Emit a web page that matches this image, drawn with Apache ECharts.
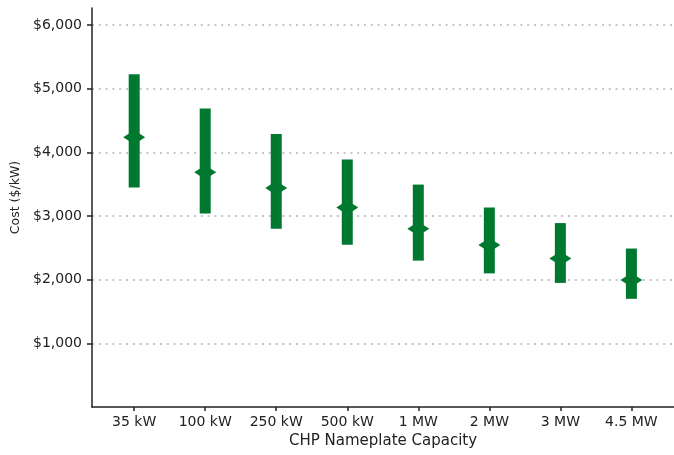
<!DOCTYPE html>
<html>
<head>
<meta charset="utf-8">
<script src="https://cdn.jsdelivr.net/npm/echarts@6/dist/echarts.min.js"></script>
<style>html,body{margin:0;padding:0;background:#fff}#c{width:674px;height:455px}</style>
</head>
<body>
<div id="c"></div>
<script>
var categories = ['35 kW', '100 kW', '250 kW', '500 kW', '1 MW', '2 MW', '3 MW', '4.5 MW'];
var lowValues = [3450, 3040, 2800, 2550, 2300, 2100, 1950, 1700];
var highValues = [5230, 4690, 4290, 3890, 3495, 3135, 2890, 2490];
var midValues = [4240, 3690, 3440, 3135, 2800, 2545, 2335, 1995];
var yTicks = [1000, 2000, 3000, 4000, 5000, 6000];
var xTicks = [0, 1, 2, 3, 4, 5, 6, 7];

var green = '#00782F';
var rangeData = categories.map(function (c, i) { return [i, lowValues[i], highValues[i]]; });
var midData = categories.map(function (c, i) { return [i, midValues[i]]; });

var chart = echarts.init(document.getElementById('c'));
chart.setOption({
  animation: false,
  grid: { left: 92, right: 0, top: 8, bottom: 48 },
  xAxis: {
    type: 'value',
    min: -0.594,
    max: 7.6,
    name: 'CHP Nameplate Capacity',
    nameLocation: 'middle',
    nameGap: 24,
    nameTextStyle: { fontFamily: 'DejaVu Sans', fontSize: 15, color: '#222' },
    axisLine: { show: true, onZero: false, lineStyle: { color: '#222', width: 1.5 } },
    axisTick: { show: true, length: 4, customValues: xTicks, lineStyle: { color: '#222', width: 1.5 } },
    axisLabel: {
      customValues: xTicks,
      margin: 8,
      fontFamily: 'DejaVu Sans', fontSize: 14, color: '#222',
      formatter: function (v) { return categories[Math.round(v)]; }
    },
    splitLine: { show: false }
  },
  yAxis: {
    type: 'value',
    min: 0,
    max: 6270,
    name: 'Cost ($/kW)',
    nameLocation: 'middle',
    nameGap: 69,
    nameTextStyle: { fontFamily: 'DejaVu Sans', fontSize: 12.5, color: '#222', padding: [0, 0, 0, 20] },
    axisLine: { show: true, onZero: false, lineStyle: { color: '#222', width: 1.5 } },
    axisTick: { show: true, length: 5, customValues: yTicks, lineStyle: { color: '#222', width: 1.5 } },
    axisLabel: {
      customValues: yTicks,
      margin: 10,
      fontFamily: 'DejaVu Sans', fontSize: 14, color: '#222',
      formatter: function (v) { return '$' + v.toLocaleString('en-US'); }
    },
    splitLine: { show: true, lineStyle: { color: '#c6c6c6', width: 2, type: [2, 4.8] } }
  },
  series: [
    {
      type: 'custom',
      data: rangeData,
      encode: { x: 0, y: [1, 2] },
      renderItem: function (params, api) {
        var x = api.value(0);
        var p1 = api.coord([x, api.value(1)]);
        var p2 = api.coord([x, api.value(2)]);
        var w = 11;
        return {
          type: 'rect',
          shape: { x: p1[0] - w / 2, y: p2[1], width: w, height: p1[1] - p2[1] },
          style: { fill: green }
        };
      },
      z: 2
    },
    {
      type: 'scatter',
      data: midData,
      symbol: 'diamond',
      symbolSize: [22, 14],
      itemStyle: { color: green, opacity: 1 },
      z: 3
    }
  ]
});
</script>
</body>
</html>
